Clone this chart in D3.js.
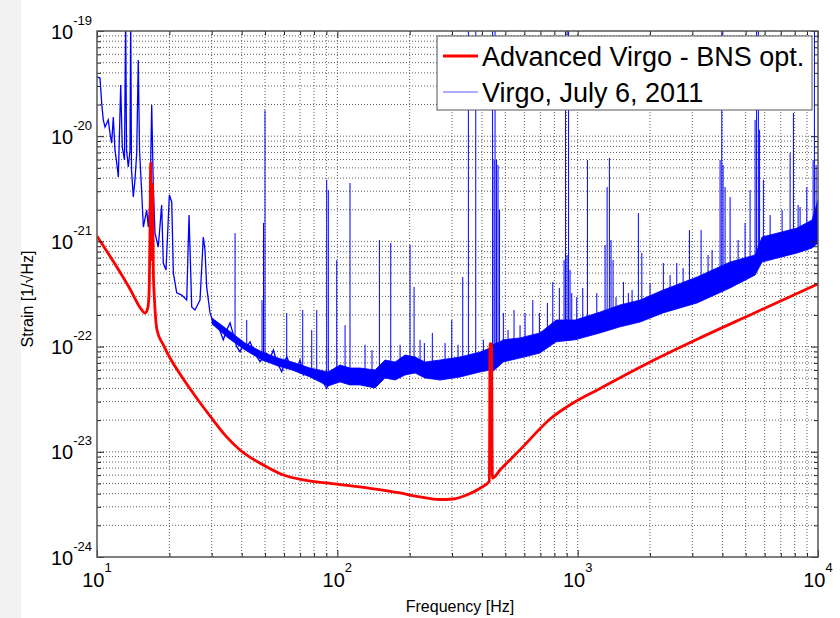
<!DOCTYPE html>
<html lang="en">
<head>
<meta charset="UTF-8">
<title>Advanced Virgo vs Virgo sensitivity</title>
<style>
  body { margin: 0; background: #fff; }
  svg text { font-family: "Liberation Sans", Arial, Helvetica, sans-serif; fill: #000; }
  .grid line { stroke: #333; stroke-dasharray: 1,2; stroke-width: 0.8; }
  .ticks line { stroke: #222; }
</style>
</head>
<body>
<svg id="chart" width="840" height="618"></svg>
<script src="https://d3js.org/d3.v7.min.js"></script>
<script>
// Advanced Virgo design curve (BNS optimised)
const redFreq = [10, 13.72, 15.24, 15.84, 16.23, 16.46, 16.62, 16.73, 16.84, 16.94, 17.03, 17.15, 17.35, 17.77, 18.88,
  20.13, 22.15, 26.33, 29.53, 34.10, 39.37, 49.21, 59.62, 72.21, 99.4, 136.8, 182.4, 220.9, 267.5, 303.0, 345.6, 392.6,
  429.1, 432.0, 438.2, 441.6, 475.4, 592.7, 767.7, 957, 1240, 2002, 3231, 5217, 10000];
const redStrain = [1.12e-21, 3.53e-22, 2.28e-22, 2.08e-22, 2.28e-22, 3.09e-22, 1.28e-21, 5.56e-21, 1.03e-21, 6.65e-22,
  3.5e-21, 5.35e-22, 2.77e-22, 1.44e-22, 1.04e-22, 7.80e-23, 5.49e-23, 3.11e-23, 2.19e-23, 1.44e-23, 1.04e-23, 7.49e-24,
  6.02e-24, 5.40e-24, 4.94e-24, 4.50e-24, 4.06e-24, 3.72e-24, 3.52e-24, 3.56e-24, 3.88e-24, 4.50e-24, 5.25e-24,
  1.07e-22, 1.03e-22, 5.63e-24, 6.71e-24, 1.12e-23, 2.05e-23, 2.91e-23, 4.00e-23, 7.14e-23, 1.21e-22, 2.00e-22, 3.94e-22];

// Virgo July 6 2011: trace below ~100 Hz
const blueLowF = [10, 10.29, 10.46, 10.62, 10.80, 11.14, 11.32, 11.51, 11.69, 11.88, 12.08, 12.27, 12.55, 12.74, 13.01,
  13.16, 13.27, 13.50, 13.72, 13.81, 13.92, 14.16, 14.39, 14.63, 14.85, 15.03, 15.35, 15.59, 16.10, 16.35, 16.62,
  16.89, 17.15, 17.43, 17.99, 18.58, 18.87, 19.37, 20.0, 20.46, 20.78, 21.46, 22.52, 23.62, 24.15, 24.78, 25.57,
  26.83, 27.69, 28.14, 28.60, 29.53, 30.48, 31.97, 33.54, 34.65, 35.77, 38.14, 39.37, 40.63, 41.98, 43.33, 44.72,
  46.20, 47.69, 50.83, 52.48, 54.18, 55.96, 58.70, 61.58, 63.56, 65.60, 67.78, 69.96, 72.21, 74.60, 78.25, 82.09,
  86.12, 90.33, 96.24];
const blueLowH = [3.66e-20, 3.57e-20, 2.07e-20, 1.43e-20, 1.22e-20, 1.43e-20, 1.07e-20, 8.61e-21, 1.52e-20, 7.40e-21,
  5.56e-21, 4.09e-21, 3.07e-20, 7.89e-21, 5.94e-21, 1.3e-19, 7.40e-21, 5.09e-21, 7.40e-21, 1.3e-19, 4.77e-21,
  2.64e-21, 3.84e-21, 6.92e-21, 5.30e-20, 7.40e-21, 2.88e-21, 1.37e-21, 1.99e-21, 1.37e-21, 2.48e-21, 1.98e-20,
  3.29e-21, 1.20e-21, 8.85e-22, 2.22e-21, 6.23e-22, 5.35e-22, 2.76e-21, 2.37e-21, 5.01e-22, 3.24e-22, 3.09e-22,
  2.77e-22, 1.78e-21, 2.38e-22, 2.23e-22, 2.77e-22, 1.10e-21, 8.28e-22, 3.69e-22, 2.09e-22, 1.68e-22, 1.55e-22,
  1.16e-22, 1.44e-22, 1.68e-22, 9.98e-23, 8.94e-23, 1.08e-22, 9.98e-23, 1.11e-22, 9.28e-23, 8.02e-23, 7.19e-23,
  8.64e-23, 7.74e-23, 9.28e-23, 7.19e-23, 5.77e-23, 8.02e-23, 6.69e-23, 6.44e-23, 5.99e-23, 7.46e-23, 5.37e-23,
  5.99e-23, 5.17e-23, 5.37e-23, 4.81e-23, 4.01e-23, 5.57e-23];

// Virgo July 6 2011: noise floor envelope above 30 Hz
const bandF = [30.10, 35.09, 41.30, 48.60, 56.66, 64.79, 77.00, 91.49, 102.6, 112.9, 124.3, 143.5, 157.9, 173.9, 191.3,
  210.6, 231.7, 267.6, 324.0, 392.6, 432.0, 440.4, 475.4, 489.3, 575.8, 697.4, 813.2, 975.4, 1240, 1501, 1818, 2266,
  3140, 4307, 5473, 5853, 8187, 9452, 10000];
const bandHigh = [1.87e-22, 1.44e-22, 1.08e-22, 8.89e-23, 7.79e-23, 7.14e-23, 6.26e-23, 5.74e-23, 6.69e-23, 6.26e-23,
  6.26e-23, 5.99e-23, 7.46e-23, 7.14e-23, 8.32e-23, 7.96e-23, 7.14e-23, 7.46e-23, 7.96e-23, 8.89e-23, 9.70e-23,
  1.04e-22, 1.11e-22, 1.16e-22, 1.21e-22, 1.35e-22, 1.79e-22, 1.79e-22, 2.13e-22, 2.49e-22, 2.77e-22, 3.45e-22,
  4.59e-22, 6.37e-22, 7.43e-22, 1.10e-21, 1.34e-21, 1.60e-21, 2.47e-21];
const bandLow = [1.64e-22, 1.21e-22, 9.28e-23, 7.46e-23, 6.54e-23, 5.99e-23, 5.14e-23, 4.22e-23, 4.61e-23, 4.32e-23,
  4.32e-23, 4.04e-23, 5.03e-23, 4.81e-23, 5.37e-23, 5.61e-23, 5.03e-23, 4.81e-23, 5.14e-23, 5.74e-23, 5.99e-23,
  5.74e-23, 6.69e-23, 7.14e-23, 7.79e-23, 8.69e-23, 1.11e-22, 1.16e-22, 1.35e-22, 1.54e-22, 1.71e-22, 2.09e-22,
  2.60e-22, 3.61e-22, 4.79e-22, 6.37e-22, 7.76e-22, 8.66e-22, 9.66e-22];

// Virgo July 6 2011: spectral lines (frequency, peak strain)
const spikeF = [37.53, 41.98, 48.60, 49.30, 50.01, 61.58, 71.78, 78.25, 82.09, 90.33, 91.73, 99.43, 107.7, 112.9, 149.6,
  166.8, 200.7, 208.6, 230.2, 248.5, 299.3, 332.5, 351.0, 376.7, 405.2, 442.5, 448.9, 453.2, 459.8, 466.4, 473.1,
  490.6, 543.6, 604.1, 650.5, 692.9, 748.2, 787.9, 839.1, 877.8, 890.5, 903.4, 916.5, 929.7, 945.0, 991.4, 1050,
  1098, 1201, 1300, 1326, 1355, 1377, 1404, 1550, 1625, 1789, 1849, 2273, 2585, 2917, 3263, 3914, 3978, 4028, 4106,
  4307, 4973, 5217, 5473, 5553, 5649, 5714, 5926, 7655, 7901, 8424, 8983, 9543, 9662, 9820];
const spikeH = [1.20e-21, 1.79e-22, 2.77e-22, 1.50e-21, 1.77e-20, 2.09e-22, 2.23e-22, 1.44e-22, 2.23e-22, 3.84e-21,
  3.08e-21, 6.65e-22, 1.60e-22, 3.59e-21, 1.03e-21, 9.66e-22, 9.24e-22, 3.69e-22, 1.08e-22, 1.35e-22, 1.79e-22,
  4.59e-22, 1.3e-19, 1.3e-19, 1.16e-22, 1.3e-19, 5.94e-21, 1.3e-19, 5.94e-21, 5.32e-21, 1.99e-21, 2.09e-22,
  2.23e-22, 2.09e-22, 2.77e-22, 2.09e-22, 2.60e-22, 4.11e-22, 3.61e-22, 6.65e-22, 1.3e-19, 7.43e-22, 1.3e-19,
  5.35e-22, 3.23e-22, 2.96e-22, 3.61e-22, 5.94e-21, 3.23e-22, 9.24e-22, 3.29e-21, 6.21e-21, 1.03e-21, 6.65e-22,
  4.11e-22, 3.23e-22, 1.86e-21, 7.76e-22, 6.23e-22, 6.23e-22, 1.28e-21, 1.28e-21, 5.94e-21, 1.3e-19, 5.32e-21,
  3.29e-21, 2.64e-21, 1.50e-21, 3.08e-21, 1.43e-20, 1.3e-19, 1.3e-19, 1.15e-20, 3.84e-21, 6.92e-21, 1.66e-20,
  2.12e-21, 3.29e-21, 5.94e-21, 1.3e-19, 5.32e-21];

// smaller lines just above the noise floor
const smallLineF = [130.4, 139.4, 182.4, 220.9, 280.7, 317.9, 513.3, 575.8, 1444, 1684, 2001, 2424, 2746, 3488, 3625,
  4652, 6321, 7091, 8265];
const smallLineH = [1.04e-22, 9.28e-23, 1.04e-22, 1.16e-22, 1.08e-22, 1.04e-22, 1.44e-22, 1.60e-22, 2.96e-22, 3.45e-22,
  4.02e-22, 4.79e-22, 5.59e-22, 7.43e-22, 8.28e-22, 1.03e-21, 1.78e-21, 1.99e-21, 2.22e-21];

// ticks
const xMajor = [10, 100, 1000, 10000];
const xExp = ["1", "2", "3", "4"];
const yMajor = [1e-24, 1e-23, 1e-22, 1e-21, 1e-20, 1e-19];
const yExp = ["-24", "-23", "-22", "-21", "-20", "-19"];
const mult = [2, 3, 4, 5, 6, 7, 8, 9];

const legendLabels = ["Advanced Virgo - BNS opt.", "Virgo, July 6, 2011"];

// layout
const W = 840, H = 618;
const plot = { left: 97, top: 31, right: 818, bottom: 557 };

const svg = d3.select("#chart");
svg.append("rect").attr("width", W).attr("height", H).attr("fill", "#fff");
svg.append("rect").attr("width", 21).attr("height", H).attr("fill", "#f2f2f2");

const x = d3.scaleLog().domain([10, 10000]).range([plot.left, plot.right]);
const y = d3.scaleLog().domain([1e-24, 1e-19]).range([plot.bottom, plot.top]);

const xMinor = d3.merge(xMajor.slice(0, -1).map(d => mult.map(m => d * m)));
const yMinor = d3.merge(yMajor.slice(0, -1).map(d => mult.map(m => d * m)));

// grid
const grid = svg.append("g").attr("class", "grid");
grid.selectAll("line.v")
  .data(xMinor.concat(xMajor.slice(1, -1)))
  .join("line").attr("class", "v")
  .attr("x1", d => x(d)).attr("x2", d => x(d))
  .attr("y1", plot.top).attr("y2", plot.bottom);
grid.selectAll("line.h")
  .data(yMinor.concat(yMajor.slice(1, -1)))
  .join("line").attr("class", "h")
  .attr("y1", d => y(d)).attr("y2", d => y(d))
  .attr("x1", plot.left).attr("x2", plot.right);

svg.append("clipPath").attr("id", "clip")
  .append("rect")
  .attr("x", plot.left).attr("y", plot.top)
  .attr("width", plot.right - plot.left).attr("height", plot.bottom - plot.top);

const data = svg.append("g").attr("clip-path", "url(#clip)");

// blue: noise floor band
const band = bandF.map((f, i) => ({ f, hi: bandHigh[i], lo: bandLow[i] }));
data.append("path")
  .datum(band)
  .attr("fill", "#0000ff")
  .attr("stroke", "#0000ff")
  .attr("stroke-width", 0.8)
  .attr("d", d3.area().x(d => x(d.f)).y0(d => y(d.lo)).y1(d => y(d.hi)));

// blue: lines, drawn up from the noise floor
const baseAt = d3.scaleLog().domain(bandF).range(bandLow);
const lines = spikeF.map((f, i) => ({ f, h: spikeH[i] }))
  .concat(smallLineF.map((f, i) => ({ f, h: smallLineH[i] })));
data.selectAll("line.spike")
  .data(lines)
  .join("line").attr("class", "spike")
  .attr("x1", d => x(d.f)).attr("x2", d => x(d.f))
  .attr("y1", d => y(baseAt(d.f))).attr("y2", d => y(d.h))
  .attr("stroke", "#0000ff").attr("stroke-width", 1);

// blue: low frequency trace
data.append("path")
  .datum(blueLowF.map((f, i) => ({ f, h: blueLowH[i] })))
  .attr("fill", "none")
  .attr("stroke", "#0000ff")
  .attr("stroke-width", 1.3)
  .attr("d", d3.line().x(d => x(d.f)).y(d => y(d.h)));

// red design curve
data.append("path")
  .datum(redFreq.map((f, i) => ({ f, h: redStrain[i] })))
  .attr("fill", "none")
  .attr("stroke", "#ff0000")
  .attr("stroke-width", 2.8)
  .attr("stroke-linejoin", "round")
  .attr("d", d3.line().curve(d3.curveMonotoneX).x(d => x(d.f)).y(d => y(d.h)));

// tick marks on all four sides, pointing inwards
function ticks(axis, tx, ty) {
  const g = svg.append("g").attr("class", "ticks")
    .attr("transform", `translate(${tx},${ty})`).call(axis);
  g.select(".domain").remove();
  g.selectAll("text").remove();
}
[[xMajor, 7], [xMinor, 4]].forEach(([vals, len]) => {
  ticks(d3.axisBottom(x).tickValues(vals).tickSize(-len).tickSizeOuter(0), 0, plot.bottom);
  ticks(d3.axisTop(x).tickValues(vals).tickSize(-len).tickSizeOuter(0), 0, plot.top);
});
[[yMajor, 7], [yMinor, 4]].forEach(([vals, len]) => {
  ticks(d3.axisLeft(y).tickValues(vals).tickSize(-len).tickSizeOuter(0), plot.left, 0);
  ticks(d3.axisRight(y).tickValues(vals).tickSize(-len).tickSizeOuter(0), plot.right, 0);
});

svg.append("rect")
  .attr("x", plot.left).attr("y", plot.top)
  .attr("width", plot.right - plot.left).attr("height", plot.bottom - plot.top)
  .attr("fill", "none").attr("stroke", "#555").attr("stroke-width", 1.5);

// tick labels as 10^n
const xl = svg.append("g").selectAll("text")
  .data(xMajor).join("text")
  .attr("x", d => x(d)).attr("y", plot.bottom + 30)
  .attr("text-anchor", "middle")
  .attr("font-size", 20)
  .text("10");
xl.append("tspan").attr("font-size", 13).attr("dy", -15).text((d, i) => xExp[i]);

const yl = svg.append("g").selectAll("text")
  .data(yMajor).join("text")
  .attr("x", plot.left - 5).attr("y", d => y(d) + 7.5)
  .attr("text-anchor", "end")
  .attr("font-size", 20)
  .text("10");
yl.append("tspan").attr("font-size", 13).attr("dy", -14).text((d, i) => yExp[i]);

// axis titles
svg.append("text")
  .attr("x", 460).attr("y", 612)
  .attr("text-anchor", "middle").attr("font-size", 16)
  .text("Frequency [Hz]");
svg.append("text")
  .attr("transform", "translate(33,299) rotate(-90)")
  .attr("text-anchor", "middle").attr("font-size", 16)
  .text("Strain [1/\u221AHz]");

// legend
const leg = svg.append("g");
leg.append("rect")
  .attr("x", 437).attr("y", 36).attr("width", 375).attr("height", 74)
  .attr("fill", "#fff").attr("stroke", "#555").attr("stroke-width", 1);
const legColors = ["#ff0000", "#5a5aff"];
const legWidths = [2.8, 1.2];
legendLabels.forEach((lab, i) => {
  const cy = 56 + i * 36;
  leg.append("line")
    .attr("x1", 443).attr("x2", 478).attr("y1", cy).attr("y2", cy)
    .attr("stroke", legColors[i]).attr("stroke-width", legWidths[i]);
  leg.append("text")
    .attr("x", 482).attr("y", cy + 10)
    .attr("font-size", 27)
    .text(lab);
});
</script>
</body>
</html>
